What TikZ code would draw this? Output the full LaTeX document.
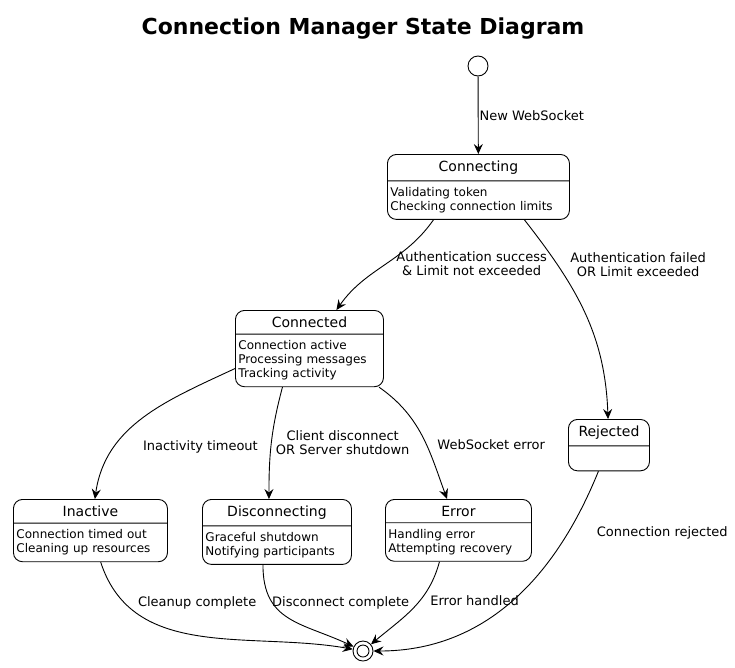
\documentclass[tikz,border=0pt]{standalone}
\usepackage{fontspec}
\setmainfont{DejaVu Sans}
\usetikzlibrary{arrows.meta,shapes.multipart}

\newcommand{\namefont}{\fontsize{14}{16}\selectfont}
\newcommand{\bodyfont}{\fontsize{12}{14}\selectfont}
\newcommand{\lblfont}{\fontsize{13}{14}\selectfont}
\newcommand{\sname}[1]{\namefont\hfill #1\hfill\null}

\tikzset{
  state/.style={rectangle split, rectangle split parts=2, draw, line width=0.9pt,
    rounded corners=9pt, anchor=north west, align=left, font=\bodyfont,
    inner xsep=3pt, inner ysep=6pt},
  lbl/.style={anchor=west, inner sep=1pt, font=\lblfont, align=center},
}

\begin{document}
\begin{tikzpicture}[x=1pt,y=-1pt]
\useasboundingbox (0,0) rectangle (735,667);
\node[font=\fontsize{22}{26}\selectfont\bfseries] (title) at (363,29) {Connection Manager State Diagram};
\node[circle,draw,line width=0.9pt,minimum size=20pt,inner sep=0pt] (init) at (478,66) {};
\node[state,text width=176pt] (connecting) at (387,154) {\sname{Connecting}
  \nodepart{two}Validating token\\Checking connection limits};
\node[state,text width=142pt] (connected) at (235,310) {\sname{Connected}
  \nodepart{two}Connection active\\Processing messages\\Tracking activity};
\node[state,text width=75pt] (rejected) at (568,419) {\sname{Rejected}
  \nodepart{two}\rule{0pt}{12pt}};
\node[state,text width=148pt] (inactive) at (13,499) {\sname{Inactive}
  \nodepart{two}Connection timed out\\Cleaning up resources};
\node[state,text width=143pt] (disconnecting) at (202,499) {\sname{Disconnecting}
  \nodepart{two}Graceful shutdown\\Notifying participants};
\node[state,text width=140pt] (error) at (385,499) {\sname{Error}
  \nodepart{two}Handling error\\Attempting recovery};
\node[circle,draw,line width=0.9pt,minimum size=20pt,inner sep=0pt] (final) at (363,651) {};
\node[circle,fill=white,draw,line width=0.9pt,minimum size=12pt,inner sep=0pt] (finaldot) at (final) {};
\path[-{Stealth[length=10pt,width=9pt,inset=3.5pt]},line width=0.9pt]
(init) edge node[lbl] {New WebSocket} (connecting)
([xshift=-45pt]connecting.south) edge[out=-125,in=55] node[lbl,pos=0.45,xshift=5pt,yshift=-2pt] {Authentication success\\\& Limit not exceeded} (connected)
([xshift=46pt]connecting.south) edge[out=-52,in=92] node[lbl,pos=0.2,xshift=16pt,yshift=-7pt] {Authentication failed\\OR Limit exceeded} (rejected)
(connected.195) edge[out=205,in=82] node[lbl,pos=0.66,xshift=20pt,yshift=-9pt] {Inactivity timeout} (inactive)
([xshift=-27pt]connected.south) edge[out=-105,in=90] node[lbl,pos=0.5,xshift=3pt] {Client disconnect\\OR Server shutdown} ([xshift=-8pt]disconnecting.north)
(connected.-29) edge[out=-35,in=110] node[lbl,pos=0.55,xshift=11pt,yshift=-3pt] {WebSocket error} (error)
(rejected) edge[out=-112,in=0] node[lbl,pos=0.17,xshift=21pt,yshift=-11pt] {Connection rejected} (final)
(inactive) edge[out=-72,in=170] node[lbl,pos=0.15,xshift=16pt,yshift=-4pt] {Cleanup complete} (final)
([xshift=-14pt]disconnecting.south) edge[out=-90,in=155,looseness=1.2] node[lbl,pos=0.3,xshift=-2pt] {Disconnect complete} (final)
([xshift=-19pt]error.south) edge[out=-105,in=40] node[lbl,pos=0.4,xshift=9pt] {Error handled} (final)
;
\end{tikzpicture}
\end{document}
